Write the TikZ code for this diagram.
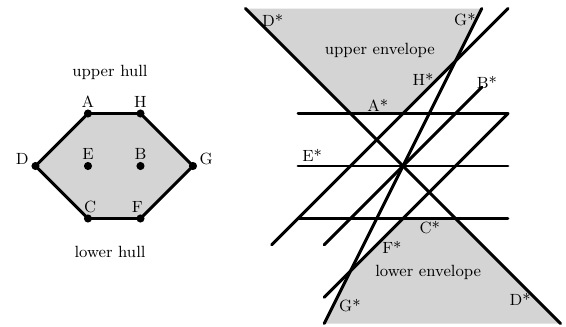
\documentclass[tikz,border=0pt]{standalone}
\begin{document}
\begin{tikzpicture}[
  every node/.style={font=\fontsize{8.8}{10}\selectfont, inner sep=0pt},
  dualline/.style={line width=1.6pt, line cap=round},
  hullline/.style={line width=1.6pt, line join=round},
  region/.style={fill=black!17},
  dot/.style={circle, fill=black, minimum size=4.4pt, inner sep=0pt},
  lbl/.style={anchor=center}
]
\useasboundingbox (-7.676,-3.048) rectangle (3.105,3.162);
% ---------- left: convex hull ----------
\coordinate (pD) at (-7,0);
\coordinate (pA) at (-6,1);
\coordinate (pH) at (-5,1);
\coordinate (pG) at (-4,0);
\coordinate (pF) at (-5,-1);
\coordinate (pC) at (-6,-1);
\fill[region] (pD) -- (pA) -- (pH) -- (pG) -- (pF) -- (pC) -- cycle;
\draw[hullline] (pD) -- (pA) -- (pH) -- (pG) -- (pF) -- (pC) -- cycle;
\node[dot] (D) at (pD) {};
\node[dot] (A) at (pA) {};
\node[dot] (H) at (pH) {};
\node[dot] (G) at (pG) {};
\node[dot] (F) at (pF) {};
\node[dot] (C) at (pC) {};
\node[dot] (E) at (-6,0) {};
\node[dot] (B) at (-5,0) {};
\node[lbl] (lA) at (-6,1.22) {A};
\node[lbl] (lH) at (-5,1.22) {H};
\node[lbl] (lE) at (-6,0.22) {E};
\node[lbl] (lB) at (-5,0.22) {B};
\node[lbl] (lD) at (-7.25,0.13) {D};
\node[lbl] (lG) at (-3.75,0.14) {G};
\node[lbl] (lC) at (-5.96,-0.78) {C};
\node[lbl] (lF) at (-5.06,-0.78) {F};
\node[lbl] (uh) at (-5.58,1.79) {upper hull};
\node[lbl] (lh) at (-5.58,-1.64) {lower hull};
% ---------- right: dual arrangement ----------
\fill[region] (-3,3) -- (-1,1) -- (0,1) -- (1,2) -- (1.5,3) -- cycle;
\fill[region] (-1.5,-3) -- (-1,-2) -- (0,-1) -- (1,-1) -- (3,-3) -- cycle;
\coordinate (A1) at (-2,1);   \coordinate (A2) at (2,1);
\coordinate (E1) at (-2,0);   \coordinate (E2) at (2,0);
\coordinate (C1) at (-2,-1);  \coordinate (C2) at (2,-1);
\coordinate (D1) at (-3,3);   \coordinate (D2) at (3,-3);
\coordinate (G1) at (-1.5,-3);\coordinate (G2) at (1.5,3);
\coordinate (H1) at (-2.5,-1.5); \coordinate (H2) at (2,3);
\coordinate (B1) at (-1.5,-1.5); \coordinate (B2) at (1.5,1.5);
\coordinate (F1) at (-1.5,-2.5); \coordinate (F2) at (2,1);
\foreach \l in {A,E,C,D,G,H,B,F} \draw[dualline] (\l1) -- (\l2);
\node[lbl] (sD) at (-2.48,2.78) {D*};
\node[lbl] (sG) at (1.18,2.78) {G*};
\node[lbl] (ue) at (-0.44,2.21) {upper envelope};
\node[lbl] (sH) at (0.38,1.64) {H*};
\node[lbl] (sB) at (1.6,1.6) {B*};
\node[lbl] (sA) at (-0.48,1.16) {A*};
\node[lbl] (sE) at (-1.73,0.21) {E*};
\node[lbl] (sC) at (0.51,-1.18) {C*};
\node[lbl] (sF) at (-0.21,-1.56) {F*};
\node[lbl] (le) at (0.48,-2.02) {lower envelope};
\node[lbl] (sG2) at (-1.01,-2.65) {G*};
\node[lbl] (sD2) at (2.23,-2.55) {D*};
\end{tikzpicture}
\end{document}
